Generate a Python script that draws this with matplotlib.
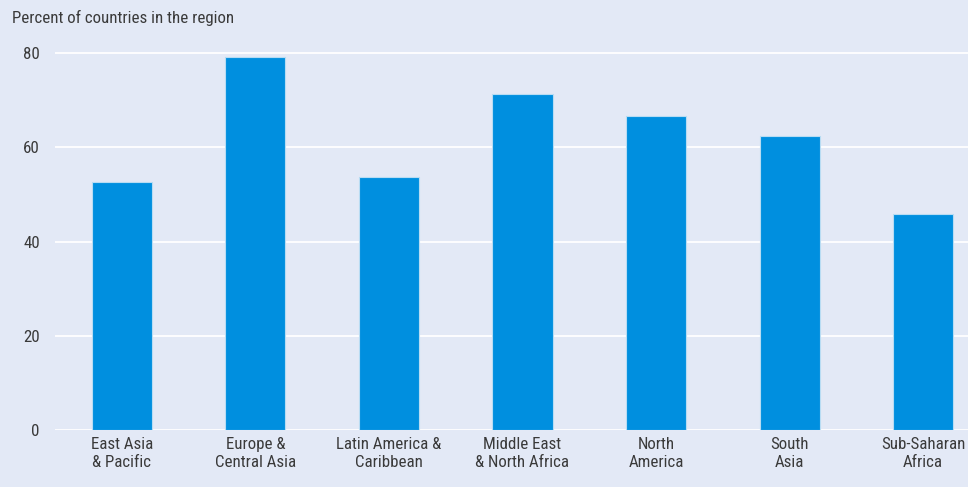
import matplotlib
matplotlib.use("Agg")
import matplotlib.pyplot as plt
from matplotlib import font_manager

categories = ["East Asia\n& Pacific", "Europe &\nCentral Asia", "Latin America &\nCaribbean",
              "Middle East\n& North Africa", "North\nAmerica", "South\nAsia", "Sub-Saharan\nAfrica"]
values = [52.6, 79.2, 53.7, 71.3, 66.6, 62.4, 45.8]
yticks = [0, 20, 40, 60, 80]

names = {f.name for f in font_manager.fontManager.ttflist}
fam = [n for n in ["Liberation Sans Narrow", "Roboto Condensed", "Roboto"] if n in names] + ["DejaVu Sans"]
plt.rcParams['font.family'] = fam

bg = "#e3e9f6"
bar_c = "#008fdf"
txt = "#3a3a3a"

fig = plt.figure(figsize=(9.68, 4.87), dpi=100, facecolor=bg)
ax = fig.add_axes([55/968, 57/487, 1 - 55/968, (430-39)/487])
ax.set_facecolor(bg)
x = list(range(len(categories)))
ax.bar(x, values, width=0.45, color=bar_c, edgecolor="#b8dcf3", linewidth=0.8, zorder=3)
ax.set_xlim(-0.5, 6.336)
ax.set_ylim(0, 83)
ax.set_yticks(yticks)
ax.grid(axis='y', color='white', linewidth=1.3, zorder=0)
for s in ax.spines.values():
    s.set_visible(False)
ax.set_xticks(x)
ax.set_xticklabels(categories, fontsize=12.2, color=txt, linespacing=1.22)
ax.tick_params(axis='both', length=0, colors=txt, labelsize=12.2)
ax.tick_params(axis='y', pad=11)
ax.tick_params(axis='x', pad=5)
fig.text(12/968, 1 - 18/487, "Percent of countries in the region", fontsize=12.2, color=txt, va='center', ha='left')
fig.savefig("out.png", dpi=100, facecolor=bg)
